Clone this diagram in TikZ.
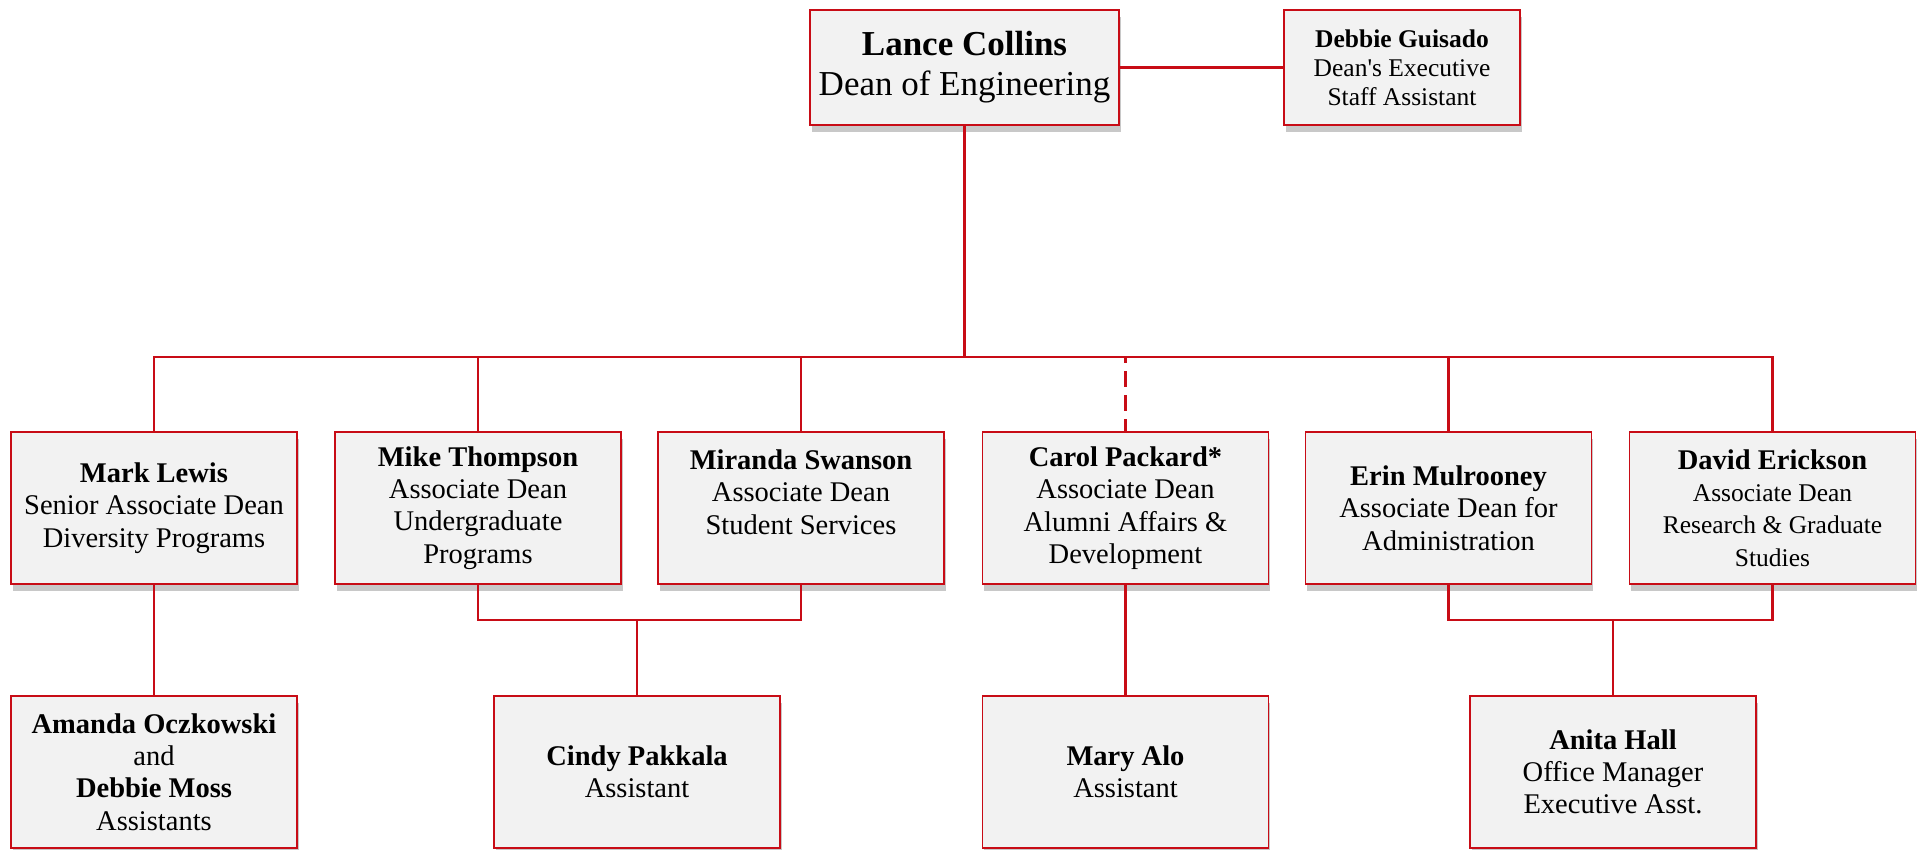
\documentclass[tikz,border=0pt]{standalone}
\usepackage{fontspec}
\setmainfont{Liberation Serif}
\usetikzlibrary{shadows}
\definecolor{lred}{RGB}{200,12,22}
\definecolor{boxfill}{RGB}{242,242,242}
\definecolor{shad}{RGB}{200,200,200}
\begin{document}
\begin{tikzpicture}[x=1pt,y=-1pt,
  box/.style={draw=lred, line width=1.3pt, fill=boxfill, inner sep=0pt, align=center,
    minimum width=286pt, minimum height=152pt,
    general shadow={fill=shad, shadow xshift=1.5pt, shadow yshift=-7pt},
    font=\fontsize{28.5}{32.3}\selectfont},
  topbox/.style={box, minimum height=115pt},
  conn/.style={draw=lred, line width=2.2pt}
]
\useasboundingbox (0,0) rectangle (1919,850);

% top
\node[topbox, minimum width=309pt, font=\fontsize{35}{40}\selectfont] (lance) at (964.5,67.5)
  {\textbf{Lance Collins}\\Dean of Engineering};
\node[topbox, minimum width=236pt, font=\fontsize{25.5}{28.8}\selectfont] (guisado) at (1402,67.5)
  {\textbf{Debbie Guisado}\\Dean\textquotesingle s Executive\\Staff Assistant};

% row 2
\node[box] (mark) at (154,508) {\textbf{Mark Lewis}\\Senior Associate Dean\\Diversity Programs};
\node[box] (mike) at (478,508) {\textbf{Mike Thompson}\\Associate Dean\\Undergraduate\\Programs};
\node[box] (miranda) at (801,508) {\textbf{Miranda Swanson}\\Associate Dean\\Student Services\\\mbox{}};
\node[box] (carol) at (1125.5,508) {\textbf{Carol Packard*}\\Associate Dean\\Alumni Affairs \&\\Development};
\node[box] (erin) at (1448.5,508) {\textbf{Erin Mulrooney}\\Associate Dean for\\Administration};
\node[box] (david) at (1772.5,508) {\textbf{David Erickson}\\{\fontsize{25.5}{30}\selectfont Associate Dean}\\{\fontsize{25.5}{30}\selectfont Research \& Graduate}\\{\fontsize{25.5}{30}\selectfont Studies}};

% row 3
\node[box] (amanda) at (154,772) {\textbf{Amanda Oczkowski}\\and\\\textbf{Debbie Moss}\\Assistants};
\node[box] (cindy) at (637,772) {\textbf{Cindy Pakkala}\\Assistant};
\node[box] (mary) at (1125.5,772) {\textbf{Mary Alo}\\Assistant};
\node[box] (anita) at (1613,772) {\textbf{Anita Hall}\\Office Manager\\Executive Asst.};

% helper coordinates
\coordinate (bus) at (964.5,357);
\coordinate (sbl) at (637,620);
\coordinate (sbr) at (1613,620);

% connectors
\draw[conn] (lance.east) -- (guisado.west);
\draw[conn] (lance.south) -- (bus);
\draw[conn] (mark.north) -- (mark.north |- bus) -- (david.north |- bus) -- (david.north);
\draw[conn] (mike.north) -- (mike.north |- bus);
\draw[conn] (miranda.north) -- (miranda.north |- bus);
\draw[conn] (erin.north) -- (erin.north |- bus);
\draw[conn, dash pattern=on 16pt off 8pt, dash phase=10pt] (carol.north |- bus) -- (carol.north);

\draw[conn] (mark.south) -- (amanda.north);
\draw[conn] (carol.south) -- (mary.north);
\draw[conn] (mike.south) -- (mike.south |- sbl) -- (miranda.south |- sbl) -- (miranda.south);
\draw[conn] (sbl) -- (cindy.north);
\draw[conn] (erin.south) -- (erin.south |- sbr) -- (david.south |- sbr) -- (david.south);
\draw[conn] (sbr) -- (anita.north);
\end{tikzpicture}
\end{document}
